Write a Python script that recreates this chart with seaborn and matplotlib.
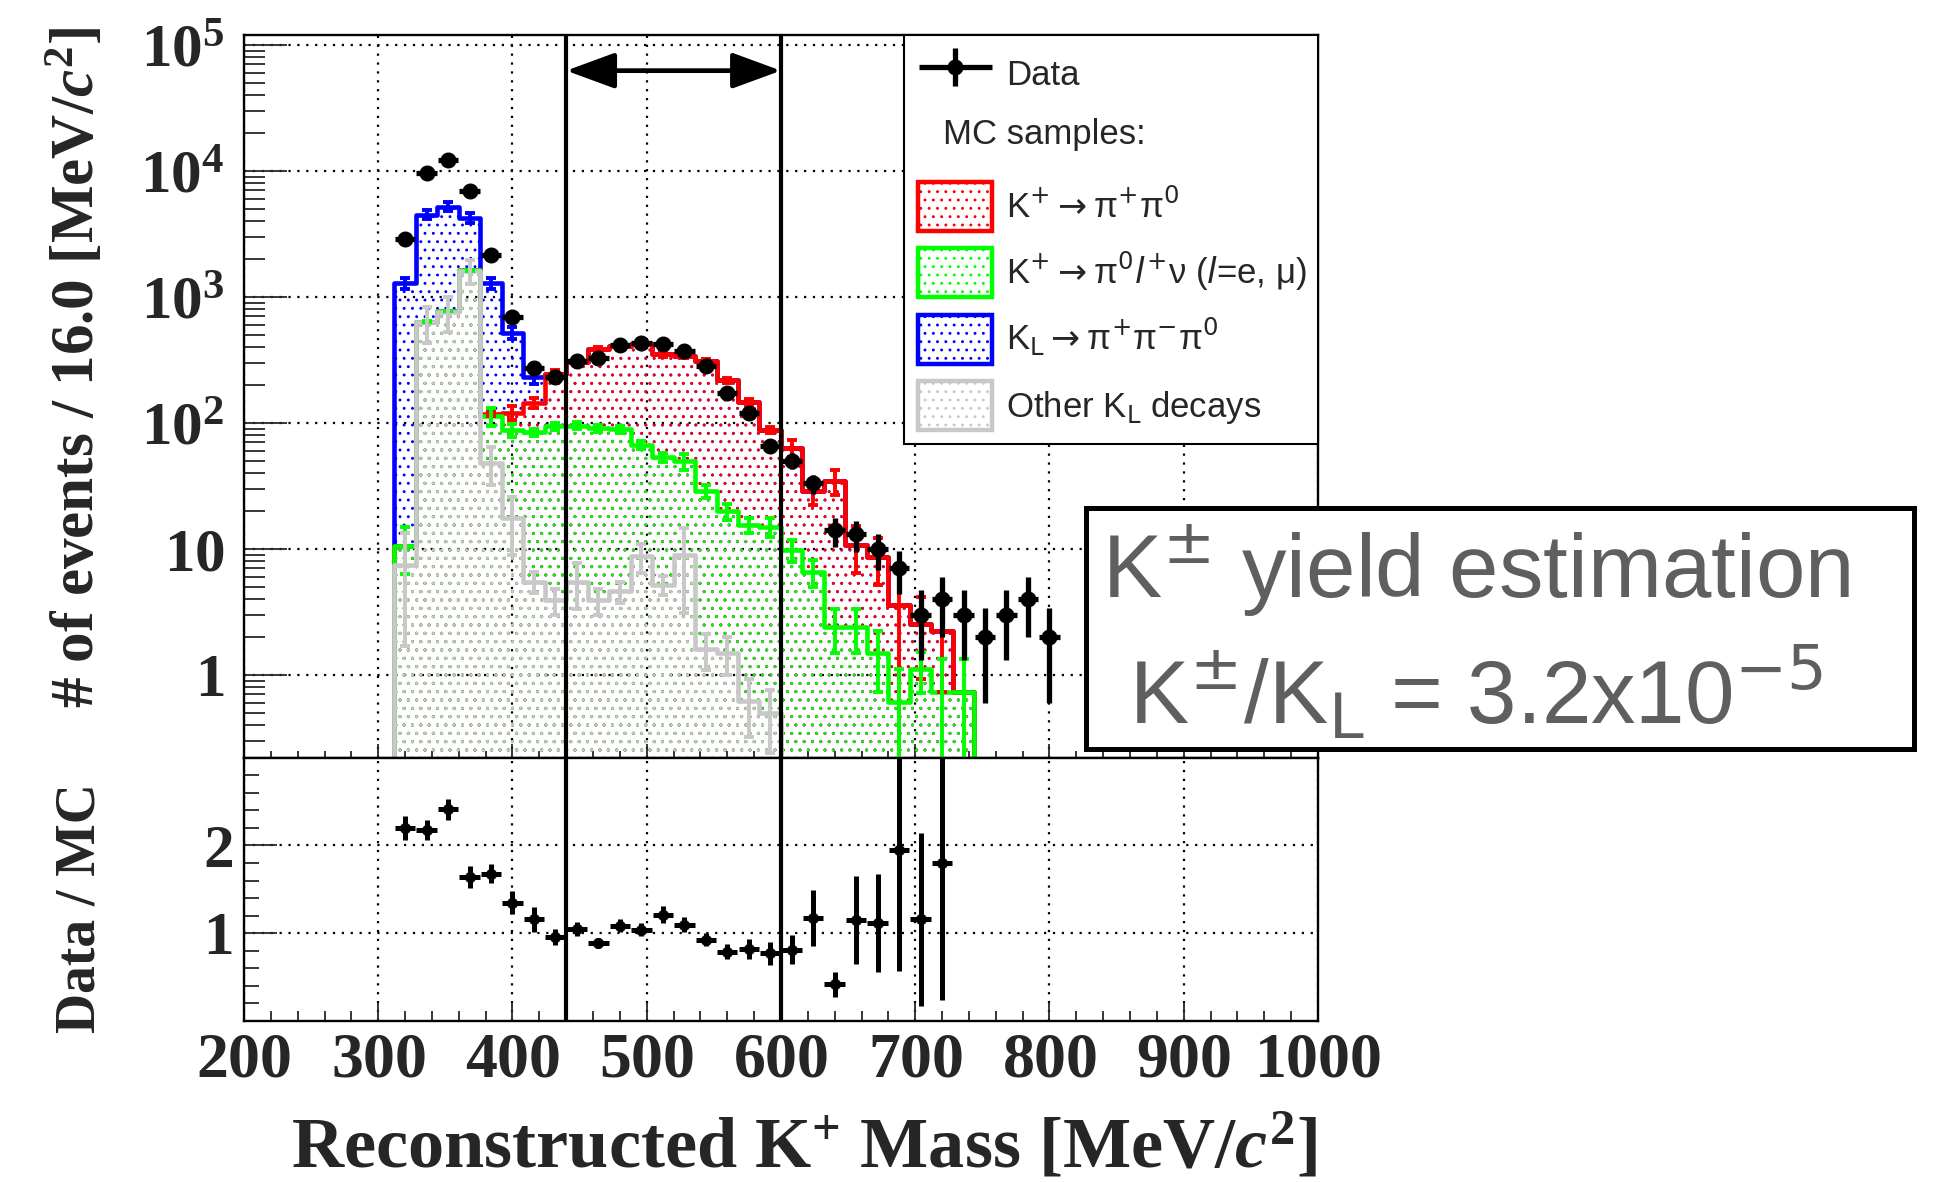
import numpy as np
import matplotlib
matplotlib.use("Agg")
import matplotlib.pyplot as plt
import seaborn as sns
from matplotlib.container import ErrorbarContainer
from matplotlib.font_manager import FontProperties
from matplotlib.legend_handler import HandlerErrorbar
from matplotlib.patches import Patch, Rectangle
from matplotlib.ticker import (FixedLocator, FixedFormatter, LogLocator,
                               MultipleLocator, NullFormatter)

# ------------------------------------------------------------------ data
BIN_WIDTH = 16.0

data_mass = [320, 336, 352, 368, 384, 400, 416, 432, 448, 464, 480, 496, 512,
             528, 544, 560, 576, 592, 608, 624, 640, 656, 672, 688, 704, 720,
             736, 752, 768, 784, 800]
data_counts = [2900, 9600, 12300, 6900, 2150, 697, 270, 231, 311, 329, 412,
               428, 425, 373, 282, 173, 120, 66, 50, 33, 14, 13, 10, 7, 3, 4,
               3, 2, 3, 4, 2]
data_err = [54, 98, 111, 83, 46, 26, 16, 15, 18, 18, 20, 21, 21, 19, 17, 13,
            11, 8.1, 7.1, 5.7, 3.7, 3.6, 3.2, 2.6, 1.7, 2.0, 1.7, 1.4, 1.7,
            2.0, 1.4]

mc_mass = [320, 336, 352, 368, 384, 400, 416, 432, 448, 464, 480, 496, 512,
           528, 544, 560, 576, 592, 608, 624, 640, 656, 672, 688, 704, 720,
           736]
# stack order: bottom -> top
other_kl = [7.5, 630, 760, 1610, 48, 17.5, 5.5, 3.9, 5.5, 3.9, 4.6, 8.7, 5.2,
            8.9, 1.6, 1.5, 0.62, 0.50, 0, 0, 0, 0, 0, 0, 0, 0, 0]
other_kl_err = [5.8, 200, 230, 350, 16, 8.5, 1.0, 0.9, 2.2, 0.9, 0.9, 2.3,
                0.9, 5.8, 0.5, 0.5, 0.3, 0.26, 0, 0, 0, 0, 0, 0, 0, 0, 0]
k_pi0_l_nu = [3.1, 5, 10, 10, 65, 69.5, 78.5, 90, 89.5, 87, 84, 58, 48, 40.6,
              27, 18.3, 14.9, 14.5, 9.8, 6.6, 2.4, 2.4, 1.48, 0.61, 1.12, 0.73,
              0.73]
k_pi0_l_nu_err = [4.3, 3, 4, 4, 18, 10, 6, 6, 6, 6, 6, 5, 4, 7, 3.5, 3, 2.2,
                  2.5, 2.0, 1.6, 0.9, 0.9, 0.75, 0.5, 0.4, 0.6, 0.6]
k_pipi0 = [0, 0, 0, 0, 5, 33, 60, 149, 210, 293, 319.5, 353, 297, 289.5, 280,
           198, 130.5, 73, 53, 22, 32, 8.4, 7.2, 3.0, 1.4, 1.5, 0]
k_pipi0_err = [0, 0, 0, 0, 5, 15, 12, 20, 15, 15, 15, 15, 15, 15, 12, 10, 8,
               5, 9.7, 6.5, 7.7, 4.4, 3.5, 3.6, 1.6, 1.5, 0]
kl_pipipi0 = [1266, 3865, 4440, 2620, 1159, 400, 86, 2, 0, 0, 0, 0, 0, 0, 0,
              0, 0, 0, 0, 0, 0, 0, 0, 0, 0, 0, 0]
kl_pipipi0_err = [130, 350, 400, 350, 130, 60, 25, 0, 0, 0, 0, 0, 0, 0, 0, 0,
                  0, 0, 0, 0, 0, 0, 0, 0, 0, 0, 0]

ratio_mass = [320, 336, 352, 368, 384, 400, 416, 432, 448, 464, 480, 496, 512,
              528, 544, 560, 576, 592, 608, 624, 640, 656, 672, 688, 704, 720]
ratio_vals = [2.20, 2.18, 2.41, 1.64, 1.68, 1.35, 1.16, 0.954, 1.05, 0.885,
              1.084, 1.04, 1.21, 1.095, 0.924, 0.79, 0.82, 0.77, 0.81, 1.17,
              0.416, 1.15, 1.12, 1.95, 1.16, 1.80]
ratio_err = [0.14, 0.115, 0.12, 0.13, 0.11, 0.134, 0.143, 0.09, 0.082, 0.057,
             0.073, 0.073, 0.095, 0.086, 0.074, 0.086, 0.11, 0.13, 0.166,
             0.32, 0.14, 0.50, 0.56, 1.38, 0.985, 1.56]

signal_window = [440, 600]

sample_labels = [
    r"Other K$_{\mathrm{L}}$ decays",
    r"K$^{+}\rightarrow$π$^{0}l^{+}$ν ($l$=e, μ)",
    r"K$^{+}\rightarrow$π$^{+}$π$^{0}$",
    r"K$_{\mathrm{L}}\rightarrow$π$^{+}$π$^{-}$π$^{0}$",
]
sample_colors = ["#c8c8c8", "#00ff00", "#ff0000", "#0000ff"]

x_ticks = [200, 300, 400, 500, 600, 700, 800, 900, 1000]
x_tick_labels = [r"$200$", r"$300$", r"$400$", r"$500$", r"$600$", r"$700$",
                 r"$800$", r"$900$", r"$1000$"]
y_ticks = [1, 10, 100, 1000, 10000, 100000]
y_tick_labels = [r"$1$", r"$10$", r"$10^{2}$", r"$10^{3}$", r"$10^{4}$",
                 r"$10^{5}$"]
ratio_ticks = [1, 2]
ratio_tick_labels = [r"$1$", r"$2$"]

# ------------------------------------------------------------------ style
sns.set_theme(style="ticks")
plt.rcParams.update({
    "font.family": ["Liberation Serif", "DejaVu Serif"],
    "font.weight": "normal",
    "mathtext.fontset": "custom",
    "mathtext.rm": "Liberation Serif:bold",
    "mathtext.it": "Liberation Serif:italic:bold",
    "mathtext.bf": "Liberation Serif:bold",
    "hatch.linewidth": 0.9,
    "axes.linewidth": 1.7,
    "axes.edgecolor": "black",
})

fig = plt.figure(figsize=(19.41, 11.82), dpi=100)
ax = fig.add_axes([0.1257, 0.359, 0.5533, 0.6115])
ax2 = fig.add_axes([0.1257, 0.1362, 0.5533, 0.2228])

ax.set_yscale("log")
ax.set_xlim(200, 1000)
ax.set_ylim(0.22, 1.2e5)

grid_kw = dict(color="black", linestyle=(0, (1, 3)), linewidth=1.6, zorder=0.5)

# ------------------------------------------------------------------ stacked MC
mass_arr = np.array(mc_mass, float)
edges = np.append(mass_arr - BIN_WIDTH / 2, mass_arr[-1] + BIN_WIDTH / 2)
comps = np.array([other_kl, k_pi0_l_nu, k_pipi0, kl_pipipi0], float)
comp_errs = np.array([other_kl_err, k_pi0_l_nu_err, k_pipi0_err,
                      kl_pipipi0_err], float)
cum = np.cumsum(comps, axis=0)

for i in reversed(range(len(comps))):
    sns.histplot(x=mc_mass, weights=list(cum[i]), bins=list(edges),
                 element="step", fill=True, color=sample_colors[i],
                 facecolor="none", edgecolor=sample_colors[i], hatch="..",
                 linewidth=3.3, ax=ax, zorder=2)
    m = (comp_errs[i] > 0) & (cum[i] > 0)
    ax.errorbar(mass_arr[m], cum[i][m], yerr=comp_errs[i][m], fmt="none",
                ecolor=sample_colors[i], elinewidth=2.8, capsize=3.8,
                capthick=2.8, zorder=3)

# ------------------------------------------------------------------ data
data_cont = ax.errorbar(data_mass, data_counts, yerr=data_err,
                        xerr=BIN_WIDTH / 2 * 0.95, fmt="o", color="black",
                        ms=10.5, elinewidth=3.8, capsize=0, zorder=10)

for xv in signal_window:
    ax.axvline(xv, color="black", lw=3.0, zorder=11)
    ax2.axvline(xv, color="black", lw=3.0, zorder=11)

ax.annotate("", xy=(signal_window[0], 0.9505), xytext=(signal_window[1], 0.9505),
            xycoords=("data", "axes fraction"), textcoords=("data", "axes fraction"),
            arrowprops=dict(arrowstyle="<|-|>,head_length=1.5,head_width=0.55",
                            mutation_scale=20, lw=3.4, color="black",
                            shrinkA=0, shrinkB=0), zorder=12)

# axes cosmetics main
ax.set_xlim(200, 1000)
ax.set_ylim(0.22, 1.2e5)
ax.xaxis.set_major_locator(FixedLocator(x_ticks))
ax.xaxis.set_minor_locator(MultipleLocator(20))
ax.yaxis.set_major_locator(FixedLocator(y_ticks))
ax.yaxis.set_major_formatter(FixedFormatter(y_tick_labels))
ax.yaxis.set_minor_locator(LogLocator(base=10, subs=np.arange(2, 10), numticks=30))
ax.yaxis.set_minor_formatter(NullFormatter())
ax.grid(True, which="major", **grid_kw)
ax.tick_params(axis="y", which="major", direction="in", length=31, width=1.3,
               labelsize=44, pad=14, left=True, right=False)
ax.tick_params(axis="y", which="minor", direction="in", length=15, width=1.3,
               left=True, right=False)
ax.tick_params(axis="x", which="major", direction="in", length=10, width=1.3,
               labelbottom=False, bottom=True, top=False)
ax.tick_params(axis="x", which="minor", direction="in", length=5, width=1.3,
               bottom=True, top=False)
ax.set_xlabel("")
ax.set_ylabel(r"# of events / 16.0 [MeV/$c^{2}$]", fontsize=44,
              fontweight="bold", va="center")
ax.yaxis.set_label_coords(-0.155, 0.54)

# ------------------------------------------------------------------ ratio
ax2.errorbar(ratio_mass, ratio_vals, yerr=ratio_err, xerr=BIN_WIDTH / 2 * 0.95,
             fmt="none", ecolor="black", elinewidth=3.6, capsize=0, zorder=10)
sns.scatterplot(x=ratio_mass, y=ratio_vals, color="black", s=55,
                edgecolor="black", marker="o", ax=ax2, zorder=10, legend=False)
ax2.set_xlim(200, 1000)
ax2.set_ylim(0, 3.0)
ax2.xaxis.set_major_locator(FixedLocator(x_ticks))
ax2.xaxis.set_major_formatter(FixedFormatter(x_tick_labels))
ax2.xaxis.set_minor_locator(MultipleLocator(20))
ax2.yaxis.set_major_locator(FixedLocator(ratio_ticks))
ax2.yaxis.set_major_formatter(FixedFormatter(ratio_tick_labels))
ax2.yaxis.set_minor_locator(MultipleLocator(0.2))
ax2.grid(True, which="major", **grid_kw)
ax2.tick_params(axis="y", which="major", direction="in", length=24, width=1.3,
                labelsize=44, pad=8, left=True, right=False)
ax2.tick_params(axis="y", which="minor", direction="in", length=11, width=1.3,
                left=True, right=False)
ax2.tick_params(axis="x", which="major", direction="in", length=13, width=1.3,
                labelsize=46, pad=8, bottom=True, top=False)
ax2.tick_params(axis="x", which="minor", direction="in", length=7, width=1.3,
                bottom=True, top=False)
ax2.set_ylabel("Data / MC", fontsize=40, fontweight="bold", va="center")
ax2.yaxis.set_label_coords(-0.152, 0.43)
ax2.set_xlabel(r"Reconstructed K$^{+}$ Mass [MeV/$c^{2}$]", fontsize=52,
               fontweight="bold", loc="right", labelpad=16)

# ------------------------------------------------------------------ legend
leg_font = FontProperties(family=["Liberation Sans", "DejaVu Sans"], size=25,
                          weight="normal", math_fontfamily="dejavusans")
handles = [data_cont, Patch(facecolor="none", edgecolor="none")]
labels = ["Data", ""]
for i in [2, 1, 3, 0]:
    handles.append(Patch(facecolor="none", edgecolor=sample_colors[i],
                         hatch="..", linewidth=3.2))
    labels.append(sample_labels[i])
leg = ax.legend(handles, labels, loc="upper left",
                bbox_to_anchor=(0.615, 0.445, 0.385, 0.555), mode="expand",
                borderaxespad=0, prop=leg_font, frameon=True, fancybox=False,
                framealpha=1, edgecolor="black", handlelength=2.13,
                handleheight=1.8, handletextpad=0.4, labelspacing=0.5,
                borderpad=0.4,
                handler_map={ErrorbarContainer: HandlerErrorbar(xerr_size=1.05,
                                                                yerr_size=0.55)})
leg.get_frame().set_linewidth(1.5)
leg.set_zorder(20)
ax.text(0.651, 0.862, "MC samples:", transform=ax.transAxes,
        fontproperties=leg_font, ha="left", va="center", zorder=21)

# ------------------------------------------------------------------ text box
box_font = FontProperties(family=["Liberation Sans", "DejaVu Sans"], size=64,
                          weight="normal", math_fontfamily="dejavusans")
fig.patches.append(Rectangle((0.5595, 0.3663), 0.4266, 0.2039,
                             transform=fig.transFigure, facecolor="white",
                             edgecolor="black", linewidth=3.6, zorder=30))
fig.text(0.5677, 0.494, r"K$^{\pm}$ yield estimation", color="#5f5f5f",
         fontproperties=box_font, ha="left", va="baseline", zorder=31)
fig.text(0.5817, 0.3875, r"K$^{\pm}$/K$_{\mathrm{L}}$ = 3.2x10$^{-5}$",
         color="#5f5f5f", fontproperties=box_font, ha="left", va="baseline",
         zorder=31)

fig.savefig("out.png", dpi=100)
